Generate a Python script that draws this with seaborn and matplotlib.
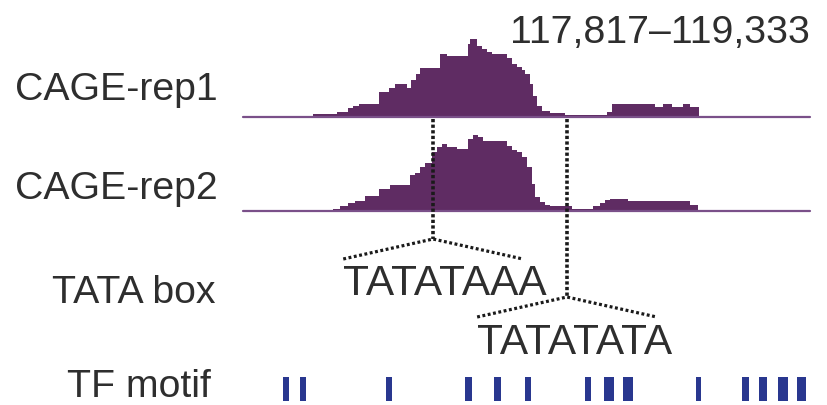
import matplotlib
matplotlib.use("Agg")
import matplotlib.pyplot as plt
import seaborn as sns

# genomic window shown
WIN_START, WIN_END = 117817, 119333

# CAGE signal, bedGraph style: interval starts and signal value
rep1_starts = [117817, 118004, 118068, 118098, 118111, 118127, 118181, 118207, 118223,
               118256, 118266, 118280, 118290, 118344, 118362, 118419, 118424, 118443,
               118456, 118469, 118483, 118523, 118536, 118550, 118563, 118571, 118584,
               118592, 118603, 118616, 118638, 118678, 118790, 118804, 118919, 118940,
               118964, 118993, 119012, 119036]
rep1_values = [0, 3, 5, 9, 11, 13, 25, 29, 33,
               29, 37, 43, 49, 63, 61, 73, 78, 71,
               68, 65, 63, 59, 53, 50, 47, 43, 33,
               21, 11, 6, 4, 2, 5, 13, 10, 13,
               10, 13, 10, 0]

rep2_starts = [117817, 118058, 118076, 118098, 118117, 118143, 118181, 118210, 118264,
               118277, 118290, 118304, 118322, 118336, 118349, 118362, 118389, 118419,
               118432, 118445, 118459, 118523, 118536, 118550, 118563, 118576, 118590,
               118598, 118611, 118624, 118638, 118697, 118753, 118771, 118785, 118798,
               118846, 119012, 119033]
rep2_values = [0, 2, 5, 8, 10, 15, 22, 26, 36,
               38, 44, 48, 59, 64, 67, 64, 62, 72,
               76, 74, 70, 65, 61, 59, 54, 44, 27,
               14, 9, 6, 5, 2, 5, 8, 11, 12,
               10, 6, 0]

tata_pos = [118325, 118683]
tata_seq = ["TATATAAA", "TATATATA"]

motif_starts = [117924, 117969, 118199, 118411, 118488, 118571, 118731, 118782,
                118833, 119028, 119151, 119197, 119247, 119298]
motif_ends = [117940, 117985, 118215, 118429, 118507, 118587, 118747, 118809,
              118860, 119042, 119170, 119218, 119274, 119322]

PURPLE = "#5f2c63"
BASE = "#7a5089"
BLUE = "#29378f"
TEXT = "#2e2e2e"

sns.set_style("white")
plt.rcParams["font.family"] = ["Liberation Sans", "DejaVu Sans"]
FS = 28.3

W, H = 827, 405
fig = plt.figure(figsize=(W / 100, H / 100), dpi=100)
L, R = 243, 810


def frac(x0, y_bottom, w, h):
    return [x0 / W, 1 - y_bottom / H, w / W, h / H]


for starts, vals, base_y in [(rep1_starts, rep1_values, 117), (rep2_starts, rep2_values, 211)]:
    ax = fig.add_axes(frac(L, base_y, R - L, 85))
    sns.histplot(x=starts, weights=vals, bins=starts + [WIN_END], element="step",
                 fill=True, color=PURPLE, alpha=1, linewidth=0, ax=ax)
    ax.axhline(0, color=BASE, lw=1.6, zorder=3, clip_on=False)
    ax.set_xlim(WIN_START, WIN_END)
    ax.set_ylim(0, 85)
    ax.set_axis_off()

# TF motif hits
ax_tf = fig.add_axes(frac(L, 401, R - L, 24))
ax_tf.bar(motif_starts, 1, width=[e - s for s, e in zip(motif_starts, motif_ends)],
          align="edge", color=BLUE, linewidth=0)
ax_tf.set_xlim(WIN_START, WIN_END)
ax_tf.set_ylim(0, 1)
ax_tf.set_axis_off()

# overlay: TATA box links, genomic x / pixel y
ov = fig.add_axes(frac(L, H, R - L, H))
ov.set_xlim(WIN_START, WIN_END)
ov.set_ylim(H, 0)
ov.set_axis_off()
ov.patch.set_visible(False)
spread = 240
for pos, seq, apex, text_y in zip(tata_pos, tata_seq, [239, 297], [295, 354]):
    ov.plot([pos, pos], [119, apex], color="#1a1a1a", lw=2.6, ls=(0, (0.9, 0.65)))
    ov.plot([pos - spread, pos, pos + spread], [apex + 20, apex, apex + 20],
            color="#1a1a1a", lw=2.3, ls=(0, (0.9, 0.8)))
    ov.text(pos - spread, text_y, seq, fontsize=30.5, color=TEXT, ha="left", va="baseline")

labels = ["CAGE-rep1", "CAGE-rep2", "TATA box", "TF motif"]
label_xy = [(15, 100), (15, 199), (52, 303), (67, 397)]
for s, (x, y) in zip(labels, label_xy):
    fig.text(x / W, 1 - y / H, s, fontsize=FS, color=TEXT, ha="left", va="baseline")

fig.text(R / W, 1 - 43 / H, f"{WIN_START:,}\u2013{WIN_END:,}", fontsize=FS,
         color=TEXT, ha="right", va="baseline")

fig.savefig("out.png", dpi=100)
